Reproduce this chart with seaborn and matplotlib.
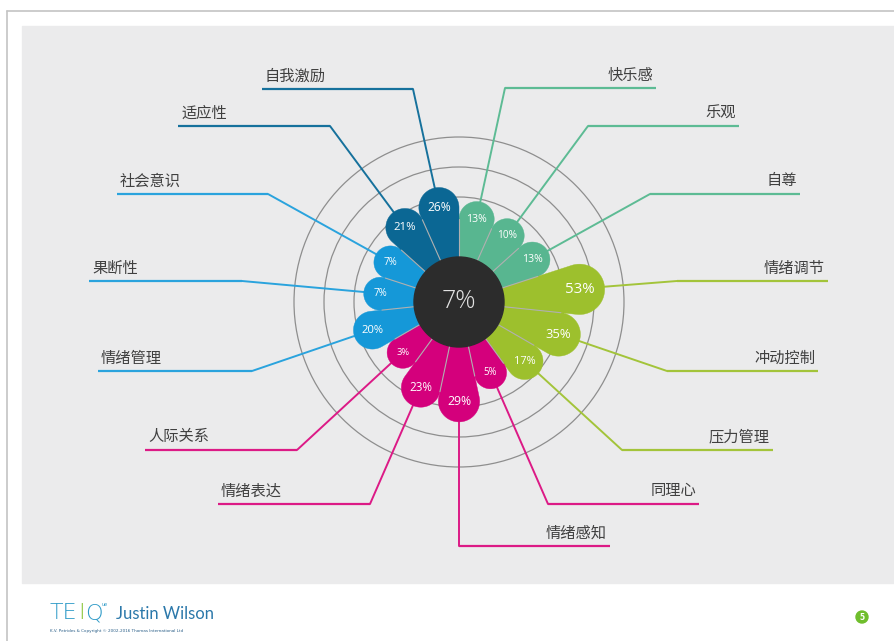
import numpy as np
import seaborn as sns
import matplotlib
matplotlib.use('Agg')
from matplotlib import pyplot as plt
from matplotlib.patches import Circle, Rectangle, Polygon


# facet names, clockwise from the top
labels = ['快乐感', '乐观', '自尊', '情绪调节', '冲动控制', '压力管理', '同理心',
          '情绪感知', '情绪表达', '人际关系', '情绪管理', '果断性', '社会意识',
          '适应性', '自我激励']
values = [13, 10, 13, 53, 35, 17, 5, 29, 23, 3, 20, 7, 7, 21, 26]
factors = ['wellbeing'] * 3 + ['selfcontrol'] * 3 + ['emotionality'] * 4 + \
          ['sociability'] * 3 + ['independent'] * 2
global_score = 7

factor_colors = {
    'wellbeing': '#58b690',
    'selfcontrol': '#9dc02d',
    'emotionality': '#d4007c',
    'sociability': '#1598d8',
    'independent': '#0b6794',
}
line_colors = {
    'wellbeing': '#5dbb94',
    'selfcontrol': '#a3c43a',
    'emotionality': '#dc1a86',
    'sociability': '#2aa3dd',
    'independent': '#16719c',
}

# label layout (underline y, x start, x end) in pixels
under_y = [88, 126, 194, 281, 371, 450, 504, 546, 504, 450, 371, 281, 194, 126, 89]
under_x0 = [505, 588, 650, 677, 667, 622, 548, 459, 218, 145, 98, 89, 117, 178, 262]
under_x1 = [656, 739, 800, 828, 818, 773, 699, 610, 370, 297, 252, 242, 268, 330, 413]
right_side = [True] * 8 + [False] * 7

cx, cy = 459, 302
rings = [105, 135, 165]
base_r, per_pct = 88, 1.1
half = np.radians(12)

sns.set_theme(style='white')
plt.rcParams['font.family'] = ['Noto Sans CJK SC', 'DejaVu Sans']

fig = plt.figure(figsize=(8.95, 6.41), dpi=100)
ax = fig.add_axes([0, 0, 1, 1])
ax.set_xlim(0, 895)
ax.set_ylim(641, 0)
ax.axis('off')
fig.patch.set_facecolor('white')

# page frame and grey panel
ax.plot([7, 895], [11, 11], color='#c4c4c4', lw=1.2)
ax.plot([7, 7], [11, 641], color='#c4c4c4', lw=1.2)
ax.add_patch(Rectangle((22, 26), 880, 557, color='#ebebec', zorder=0))

# rings
for r in rings:
    ax.add_patch(Circle((cx, cy), r, fill=False, ec='#8e8e8e', lw=0.9, zorder=1))


def direction(i):
    th = np.radians(12 + 24 * i)
    return th, np.sin(th), -np.cos(th)


tips = []
dists = []
for i, v in enumerate(values):
    th, ux, uy = direction(i)
    r_tip = base_r + per_pct * v
    d = r_tip / (1 + np.sin(half))
    rho = d * np.sin(half)
    ccx, ccy = cx + d * ux, cy + d * uy
    psi = np.linspace(th - half - np.pi / 2, th + half + np.pi / 2, 60)
    pts = [(cx, cy)] + list(zip(ccx + rho * np.sin(psi), ccy - rho * np.cos(psi)))
    col = factor_colors[factors[i]]
    ax.add_patch(Polygon(pts, closed=True, fc=col, ec=col, lw=0.3, zorder=4))
    ax.text(ccx, ccy, f'{v}%', color='white', fontsize=rho * 0.43,
            ha='center', va='center', family='Open Sans', zorder=6)
    tips.append((cx + r_tip * ux, cy + r_tip * uy))
    dists.append(d * np.cos(half))

# grey spokes between petals
for i in range(len(values)):
    th = np.radians(24 * i)
    r_end = min(dists[i], dists[i - 1])
    ax.plot([cx + 45 * np.sin(th), cx + r_end * np.sin(th)],
            [cy - 45 * np.cos(th), cy - r_end * np.cos(th)],
            color='#b0b0b0', lw=0.8, zorder=5)

# leader lines and labels
for i, lab in enumerate(labels):
    col = line_colors[factors[i]]
    knee_x = under_x0[i] if right_side[i] else under_x1[i]
    tx, ty = tips[i]
    ax.plot([tx, knee_x], [ty, under_y[i]], color=col, lw=1.4, zorder=3)
    ax.plot([under_x0[i], under_x1[i]], [under_y[i], under_y[i]],
            color=col, lw=1.6, zorder=3, solid_capstyle='butt')
    if right_side[i]:
        ax.text(under_x1[i] - 3, under_y[i] - 13, lab, ha='right', va='center',
                fontsize=11, color='#404040')
    else:
        ax.text(under_x0[i] + 3, under_y[i] - 13, lab, ha='left', va='center',
                fontsize=11, color='#404040')

# centre disc with global score
ax.add_patch(Circle((cx, cy), 45, color='#2c2c2c', zorder=7))
ax.text(cx, cy, f'{global_score}%', color='#e2e2e2', fontsize=18,
        ha='center', va='center', family='Open Sans', fontweight='light', zorder=8)

# footer
ax.text(50, 613, 'TE', color='#2f9bc8', fontsize=16, va='center', ha='left',
        family='DejaVu Sans', fontweight='light')
ax.text(78, 613, 'I', color='#8dc63f', fontsize=16, va='center', ha='left',
        family='DejaVu Sans', fontweight='light')
ax.text(85, 613, 'Q', color='#2f9bc8', fontsize=16, va='center', ha='left',
        family='DejaVu Sans', fontweight='light')
ax.text(102, 604, 'ue', color='#2f9bc8', fontsize=3.5, va='center', ha='left',
        family='DejaVu Sans')
ax.text(116, 614, 'Justin Wilson', color='#2b78aa', fontsize=12, va='center',
        ha='left', family='Lato')
ax.text(50, 631, 'K.V. Petrides & Copyright © 2002-2016 Thomas International Ltd',
        color='#2b5f88', fontsize=3, va='center', ha='left', family='DejaVu Sans')
ax.add_patch(Circle((862, 617), 6, color='#6fbe2c', zorder=3))
ax.text(862, 617.5, '5', color='white', fontsize=5.5, ha='center', va='center',
        family='DejaVu Sans', fontweight='bold', zorder=4)

fig.savefig('out.png', dpi=100)
